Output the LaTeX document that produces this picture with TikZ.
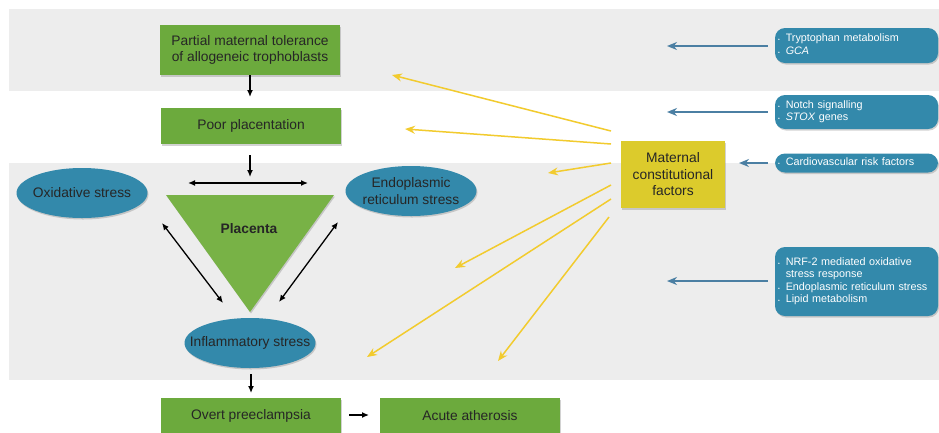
\documentclass[tikz,border=0pt]{standalone}
\usepackage{fontspec}
\setmainfont{Liberation Sans}
\usetikzlibrary{arrows.meta,shadows,shapes.geometric,calc}
\definecolor{bandgray}{HTML}{EDEDED}
\definecolor{boxgreen}{HTML}{6CAA3D}
\definecolor{trigreen}{HTML}{78B246}
\definecolor{ellblue}{HTML}{3389AB}
\definecolor{arrblue}{HTML}{4B7FA3}
\definecolor{arryel}{HTML}{F2CB2E}
\definecolor{boxyel}{HTML}{DCCB2C}
\definecolor{txt}{HTML}{262626}
\begin{document}
\begin{tikzpicture}[x=1pt,y=-1pt,
  every node/.style={font=\fontsize{13.8}{16.5}\selectfont, text=txt},
  shd/.style={drop shadow={opacity=0.35,shadow xshift=1pt,shadow yshift=-1.5pt}},
  gbox/.style={fill=boxgreen, minimum width=180pt, inner sep=0pt, align=center, shd},
  bell/.style={ellipse, fill=ellblue, inner sep=0pt, minimum width=131pt, minimum height=50pt, shd},
  ybox/.style={fill=boxyel, inner sep=0pt, align=center, shd},
  bbox/.style={fill=ellblue, rounded corners=10pt, text width=157pt, inner xsep=3pt, inner ysep=0pt,
     align=left, text=white, font=\fontsize{10.8}{12.5}\selectfont, shd},
  blk/.style={draw=black, line width=1.3pt, -{Latex[length=7pt,width=6pt]}},
  blk2/.style={draw=black, line width=1.3pt, {Latex[length=7pt,width=6pt]}-{Latex[length=7pt,width=6pt]}},
  yarr/.style={draw=arryel, line width=1.5pt, -{Stealth[length=10pt,width=8pt]}},
  barr/.style={draw=arrblue, line width=1.6pt, -{Stealth[length=10pt,width=8pt]}},
  bt/.style={align=center},
]
\useasboundingbox (0,0) rectangle (939,432);
\fill[white] (0,0) rectangle (939,432);
% background bands
\fill[bandgray] (9,9) rectangle (939,91);
\fill[bandgray] (9,163) rectangle (939,380);

% green boxes
\node[gbox, minimum height=50pt] (pmt) at (250,50) {Partial maternal tolerance\\of allogeneic trophoblasts};
\node[gbox, minimum height=36pt] (pp) at (251,126) {Poor placentation};
\node[gbox, minimum height=36pt] (op) at (251,416) {Overt preeclampsia};
\node[gbox, minimum height=36pt] (aa) at (470,416) {Acute atherosis};

% placenta triangle
\fill[trigreen, shd] (166,195) -- (334,195) -- (250,312) -- cycle;
\node (plac) at (249,229) {\bfseries Placenta};

% ellipses
\node[bell] (ox) at (82,193) {};
\node[bt] (oxt) at (ox) {Oxidative stress};
\node[bell] (er) at (411,191) {};
\node[bt] (ert) at (er) {Endoplasmic\\reticulum stress};
\node[bell] (inf) at (250,343) {};
\node[bt] (inft) at (inf) {Inflammatory stress};

% yellow box
\node[ybox, minimum width=104pt, minimum height=67pt] (mcf) at (673,174.5) {Maternal\\constitutional\\factors};

% blue boxes
\node[bbox, minimum height=35pt] (b1) at (856.5,45.5) {\begin{tabular}{@{}l@{\hspace{6pt}}l@{}}{\tiny\textbullet} & Tryptophan metabolism\\ {\tiny\textbullet} & \textit{GCA}\end{tabular}};
\node[bbox, minimum height=34pt] (b2) at (856.5,112) {\begin{tabular}{@{}l@{\hspace{6pt}}l@{}}{\tiny\textbullet} & Notch signalling\\ {\tiny\textbullet} & \textit{STOX} genes\end{tabular}};
\node[bbox, minimum height=19pt] (b3) at (856.5,163) {\begin{tabular}{@{}l@{\hspace{6pt}}l@{}}{\tiny\textbullet} & Cardiovascular risk factors\end{tabular}};
\node[bbox, minimum height=69pt] (b4) at (856.5,281.5) {\begin{tabular}{@{}l@{\hspace{6pt}}l@{}}{\tiny\textbullet} & NRF-2 mediated oxidative\\ & stress response\\ {\tiny\textbullet} & Endoplasmic reticulum stress\\ {\tiny\textbullet} & Lipid metabolism\end{tabular}};

% black arrows
\coordinate (a1e) at (250,97);
\draw[blk] (pmt.south) -- (a1e);
\coordinate (a2s) at (250,155);
\coordinate (a2e) at (250,177);
\draw[blk] (a2s) -- (a2e);
\coordinate (h1) at (188,183);
\coordinate (h2) at (308,183);
\draw[blk2] (h1) -- (h2);
\coordinate (l1) at (162,223);
\coordinate (l2) at (223,303);
\draw[blk2] (l1) -- (l2);
\coordinate (r1) at (338,222);
\coordinate (r2) at (279,302);
\draw[blk2] (r1) -- (r2);
\coordinate (a3s) at (251,374);
\coordinate (a3e) at (251,393);
\draw[blk] (a3s) -- (a3e);
\coordinate (a4s) at (349,415);
\coordinate (a4e) at (369,415);
\draw[blk] (a4s) -- (a4e);

% yellow arrows
\coordinate (ys1) at (611,131); \coordinate (ye1) at (392,75);
\coordinate (ys2) at (611,144); \coordinate (ye2) at (405,129);
\coordinate (ys3) at (611,163); \coordinate (ye3) at (548,173);
\coordinate (ys4) at (611,185); \coordinate (ye4) at (455,268);
\coordinate (ys5) at (611,199); \coordinate (ye5) at (367,357);
\coordinate (ys6) at (609,217); \coordinate (ye6) at (498,361);
\foreach \i in {1,...,6} { \draw[yarr] (ys\i) -- (ye\i); }

% blue arrows
\coordinate (be1) at (667,46);
\coordinate (be2) at (667,112);
\coordinate (be3) at (739,163);
\coordinate (be4) at (667,281);
\draw[barr] ([xshift=-7pt]b1.west |- be1) -- (be1);
\draw[barr] ([xshift=-7pt]b2.west |- be2) -- (be2);
\draw[barr] ([xshift=-7pt]b3.west |- be3) -- (be3);
\draw[barr] ([xshift=-7pt]b4.west |- be4) -- (be4);
\end{tikzpicture}
\end{document}
